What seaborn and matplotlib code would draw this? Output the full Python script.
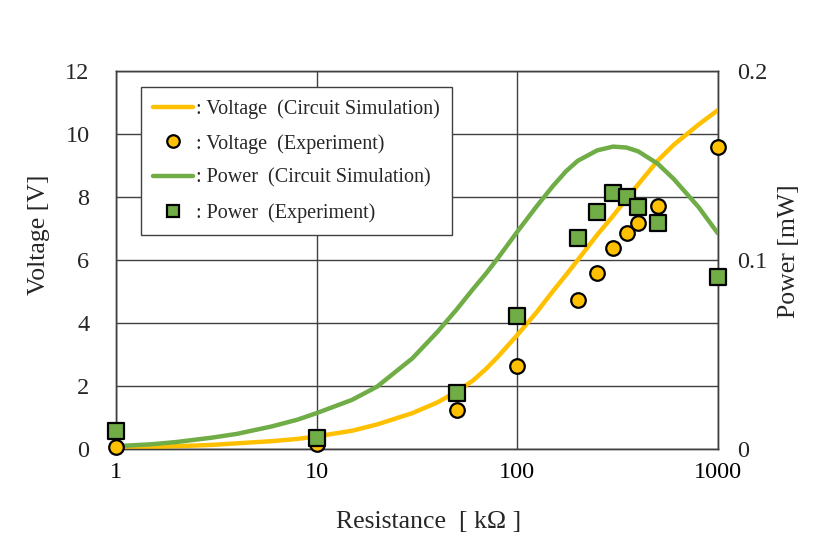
import numpy as np
import pandas as pd
import matplotlib
matplotlib.use("Agg")
import matplotlib.pyplot as plt
import seaborn as sns
from matplotlib.ticker import FixedLocator, NullFormatter
from matplotlib.lines import Line2D

# Données
# Simulation du circuit (courbes)
r_sim = [1, 1.5, 2, 3, 4, 6, 8, 10, 15, 20, 30, 40, 50, 60, 70, 80, 100, 125, 150, 175, 200, 250, 300, 350, 400, 500, 600, 800, 1000]
v_sim = [0.03, 0.06, 0.09, 0.13, 0.18, 0.25, 0.32, 0.40, 0.58, 0.78, 1.14, 1.48, 1.83, 2.17, 2.55, 2.93, 3.62, 4.35, 5.0, 5.53, 6.0, 6.8, 7.4, 7.95, 8.4, 9.15, 9.65, 10.3, 10.76]
p_sim = [0.0015, 0.0025, 0.0037, 0.006, 0.008, 0.012, 0.0155, 0.019, 0.026, 0.033, 0.048, 0.062, 0.074, 0.0845, 0.093, 0.101, 0.115, 0.1285, 0.139, 0.147, 0.1525, 0.158, 0.160, 0.1595, 0.1575, 0.151, 0.143, 0.128, 0.114]

# Mesures (points)
r_exp = [1, 10, 50, 100, 200, 250, 300, 350, 400, 500, 1000]
v_exp = [0.06, 0.15, 1.24, 2.63, 4.73, 5.59, 6.38, 6.85, 7.17, 7.71, 9.59]
p_exp = [0.0095, 0.0058, 0.0296, 0.0704, 0.1116, 0.1254, 0.1354, 0.1333, 0.128, 0.1196, 0.091]

x_ticks = [1, 10, 100, 1000]
x_labels = ["1", "10", "100", "1000"]

sim = pd.DataFrame({"R": r_sim, "V": v_sim, "P": p_sim})
exp = pd.DataFrame({"R": r_exp, "V": v_exp, "P": p_exp})

orange = "#FFC000"
green = "#70AD47"
gris = "#404040"

sns.set_style("white")
plt.rcParams["font.family"] = ["Liberation Serif", "DejaVu Serif"]

fig = plt.figure(figsize=(8.15, 5.5), dpi=100)
ax = fig.add_axes([0.1423, 0.1836, 0.7387, 0.6873])
ax2 = ax.twinx()

ax.set_xscale("log")
ax.set_xlim(1, 1000)
ax.set_ylim(0, 12)
ax2.set_ylim(0, 0.2)

# Courbes
sns.lineplot(data=sim, x="R", y="V", ax=ax, color=orange, lw=3.2, zorder=3)
sns.lineplot(data=sim, x="R", y="P", ax=ax2, color=green, lw=3.2, zorder=3)
# Points : les cercles restent sur l'échelle de gauche (transform de ax)
sns.scatterplot(data=exp, x="R", y="V", ax=ax2, color=orange, edgecolor="black",
                linewidth=1.6, s=110, marker="o", zorder=4, legend=False,
                transform=ax.transData, clip_on=False)
sns.scatterplot(data=exp, x="R", y="P", ax=ax2, color=green, edgecolor="black",
                linewidth=1.6, s=120, marker="s", zorder=5, legend=False,
                clip_on=False)

ax.set_xlim(1, 1000)
ax.set_ylim(0, 12)
ax2.set_ylim(0, 0.2)
ax.set_xticks(x_ticks)
ax.set_xticklabels(x_labels)
ax.xaxis.set_minor_locator(FixedLocator([m * 10 ** d for d in range(3) for m in range(2, 10)]))
ax.xaxis.set_minor_formatter(NullFormatter())
ax.set_yticks(np.arange(0, 13, 2))
ax2.set_yticks([0, 0.1, 0.2])
ax2.set_yticklabels(["0", "0.1", "0.2"])

ax.grid(True, which="major", color=gris, lw=1.0)
ax.tick_params(axis="x", which="major", direction="in", length=0, labelsize=17.5, pad=9, colors="black")
ax.tick_params(axis="x", which="minor", direction="in", length=5, width=1, color=gris)
ax.tick_params(axis="y", length=0, labelsize=17.5, pad=19)
ax2.tick_params(axis="y", length=0, labelsize=17.5, pad=14)
for a in (ax, ax2):
    for sp in a.spines.values():
        sp.set_color(gris)
        sp.set_linewidth(1.0)

ax.set_xlabel("Resistance  [ kΩ ]", fontsize=18.5)
ax.set_ylabel("Voltage [V]", fontsize=18.5)
ax2.set_ylabel("Power [mW]", fontsize=18.5)
ax.xaxis.set_label_coords(0.52, -0.165)
ax.yaxis.set_label_coords(-0.11, 0.566)
ax2.yaxis.set_label_coords(1.10, 0.524)

handles = [
    Line2D([], [], color=orange, lw=3.2),
    Line2D([], [], ls="", marker="o", ms=9, mfc=orange, mec="black", mew=1.6),
    Line2D([], [], color=green, lw=3.2),
    Line2D([], [], ls="", marker="s", ms=9, mfc=green, mec="black", mew=1.6),
]
labels = [
    ": Voltage  (Circuit Simulation)",
    ": Voltage  (Experiment)",
    ": Power  (Circuit Simulation)",
    ": Power  (Experiment)",
]
leg = ax2.legend(handles, labels, loc="upper left", bbox_to_anchor=(0.0415, 0.958),
                 borderaxespad=0, frameon=True, fancybox=False, fontsize=14.5,
                 handlelength=2.0, handletextpad=0.15, labelspacing=0.75,
                 borderpad=0.6, edgecolor=gris, framealpha=1)
leg.get_frame().set_linewidth(1.0)
leg.set_zorder(10)

fig.savefig("out.png", dpi=100)
